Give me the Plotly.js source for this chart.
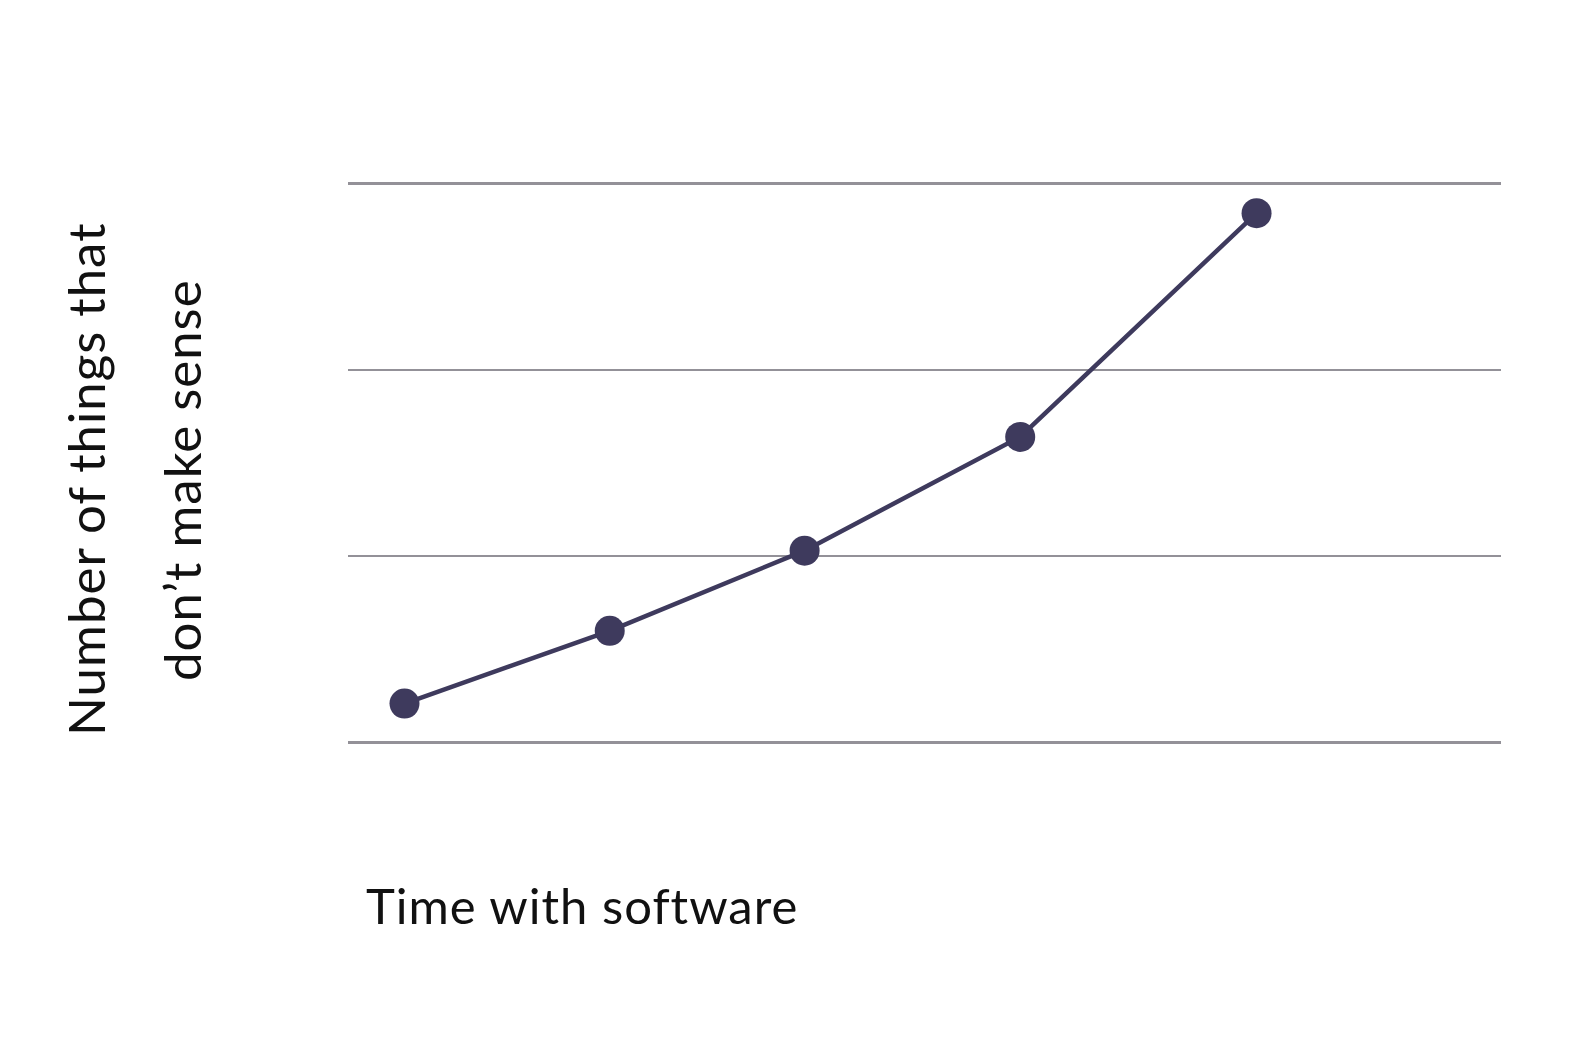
<!DOCTYPE html>
<html>
<head>
<meta charset="utf-8">
<script src="https://cdn.plot.ly/plotly-3.0.1.min.js"></script>
<style>
  html, body { margin: 0; padding: 0; background: #ffffff; }
  #chart { width: 1592px; height: 1050px; }
  text.annotation-text { letter-spacing: 1px; }
</style>
</head>
<body>
<div id="chart"></div>
<script>
// Data
const timeWithSoftware = [0.49, 2.27, 3.96, 5.83, 7.88];
const thingsThatDontMakeSense = [0.21, 0.60, 1.03, 1.64, 2.84];
const gridValues = [0, 1, 2, 3];
const yTitleLines = ["Number of things that", "don\u2019t make sense"];
const xTitleText = "Time with software";

const W = 1592, H = 1050;
const L = 348, R = 91, T = 173.5, B = 297.5;
const pw = W - L - R, ph = H - T - B;
const px = v => (v - L) / pw;
const py = v => (H - B - v) / ph;

const font = "Lato, 'Noto Sans', sans-serif";

const trace = {
  x: timeWithSoftware,
  y: thingsThatDontMakeSense,
  type: 'scatter',
  mode: 'lines+markers',
  line: { color: '#3e3a5d', width: 4.5 },
  marker: { color: '#3e3a5d', size: 30 },
  hoverinfo: 'skip',
  cliponaxis: false
};

const layout = {
  width: W,
  height: H,
  margin: { l: L, r: R, t: T, b: B, pad: 0 },
  paper_bgcolor: '#ffffff',
  plot_bgcolor: '#ffffff',
  showlegend: false,
  xaxis: {
    range: [0, 10],
    showgrid: false,
    zeroline: false,
    showline: false,
    showticklabels: false,
    ticks: ''
  },
  yaxis: {
    range: [-0.05, 3.05],
    tickvals: gridValues,
    showgrid: true,
    gridcolor: '#939198',
    gridwidth: 2.5,
    zeroline: false,
    showline: false,
    showticklabels: false,
    ticks: ''
  },
  annotations: [
    {
      text: yTitleLines[0], xref: 'paper', yref: 'paper',
      x: px(86), y: py(480), xanchor: 'center', yanchor: 'middle',
      textangle: -90, showarrow: false,
      font: { family: font, size: 51, color: '#111111' }
    },
    {
      text: yTitleLines[1], xref: 'paper', yref: 'paper',
      x: px(182), y: py(480), xanchor: 'center', yanchor: 'middle',
      textangle: -90, showarrow: false,
      font: { family: font, size: 51, color: '#111111' }
    },
    {
      text: xTitleText, xref: 'paper', yref: 'paper',
      x: px(364), y: py(906), xanchor: 'left', yanchor: 'middle',
      showarrow: false,
      font: { family: font, size: 49, color: '#111111' }
    }
  ]
};

Plotly.newPlot('chart', [trace], layout, { displayModeBar: false, staticPlot: true });
</script>
</body>
</html>
